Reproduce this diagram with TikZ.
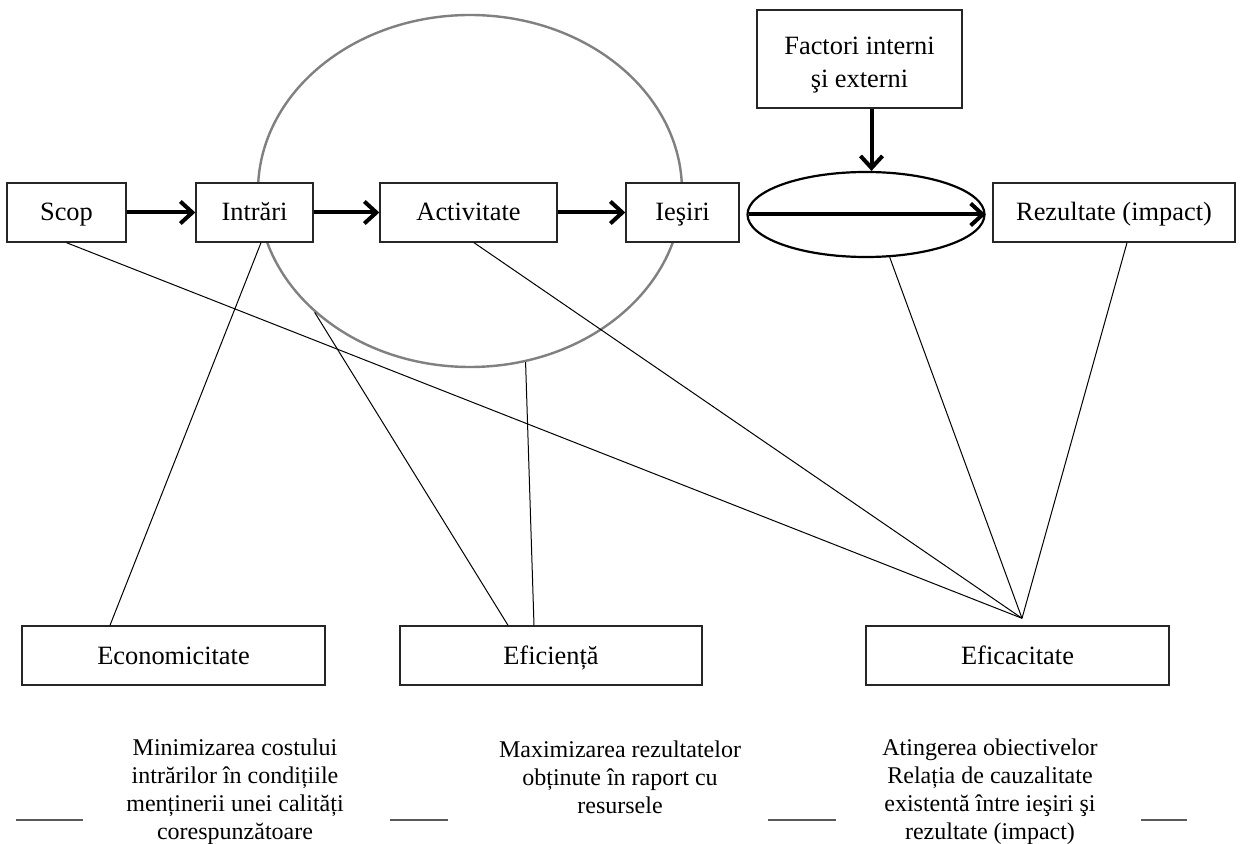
\documentclass[tikz,border=0pt]{standalone}
\usepackage{fontspec}
\setmainfont{Liberation Serif}
\usetikzlibrary{arrows.meta,shapes.geometric,calc}
\begin{document}
\begin{tikzpicture}[x=0.5pt,y=-0.5pt,
  boxbase/.style={draw=black!85, line width=0.7pt, fill=white, inner sep=0pt,
    minimum height=29.5pt, font=\fontsize{13.2}{15.5}\selectfont, align=center},
  box/.style={boxbase, text height=10pt, text depth=1.5pt},
  arr/.style={line width=2pt, -{Straight Barb[length=6pt,width=11pt]}},
  link/.style={line width=0.5pt},
  note/.style={font=\fontsize{12}{14}\selectfont, align=center, inner sep=0pt},
  dashmark/.style={line width=1pt, draw=black!65}
]
\fill[white] (0,0) rectangle (1242,844);
\useasboundingbox (0,0) rectangle (1242,844);

% big grey ellipse
\node[draw=black!50, line width=1.2pt, ellipse, minimum width=212pt,
      minimum height=176pt, inner sep=0pt] (big) at (470,191) {};

% top row
\node[box, minimum width=59.5pt] (scop) at (66.5,212.5) {Scop};
\node[box, minimum width=58.5pt] (intrari) at (254.5,212.5) {Intrări};
\node[box, minimum width=88.5pt] (activ) at (468.5,212.5) {Activitate};
\node[box, minimum width=56.5pt] (iesiri) at (682.5,212.5) {Ieşiri};
\node[draw=black, line width=1.1pt, ellipse, minimum width=118.5pt,
      minimum height=42.5pt, inner sep=0pt] (ell) at (866,214.5) {};
\node[box, minimum width=121pt] (rez) at (1114,212.5) {Rezultate (impact)};
\node[boxbase, minimum width=102.5pt, minimum height=49pt] (factori) at (859.5,59)
  {\raisebox{-2.75pt}[\height][\depth]{\renewcommand{\arraystretch}{1.05}\begin{tabular}{@{}c@{}}Factori interni\\şi externi\end{tabular}}};

% bottom boxes
\node[box, minimum width=151.5pt] (econ) at (173.5,655.5) {Economicitate};
\node[box, minimum width=151pt] (efcn) at (551,655.5) {Eficiență};
\node[box, minimum width=151.5pt] (efic) at (1017.5,655.5) {Eficacitate};

% arrows
\draw[arr] (scop) -- (intrari);
\draw[arr] (intrari) -- (activ);
\draw[arr] (activ) -- (iesiri);
\draw[arr] ($(ell.west)+(3,0)$) -- (ell.east);
\draw[arr] ($(factori.south)+(12,0)$) coordinate (fa) -- (fa |- ell.north);

% links
\coordinate (apex) at ($(efic.north)+(4.5,-7)$);
\draw[link] (scop.south) -- (apex);
\draw[link] ($(intrari.south)+(6.5,0)$) -- ($(econ.north)+(-63.5,0)$);
\draw[link] (big.218) -- ($(efcn.north)+(-43,0)$);
\draw[link] (big.-72) -- ($(efcn.north)+(-17,0)$);
\draw[link] ($(activ.south)+(5.5,0)$) -- (apex);
\draw[link] (ell.-61) -- (apex);
\draw[link] ($(rez.south)+(13,0)$) -- (apex);

% notes
\node[note] (n1) at (235,792) {Minimizarea costului\\intrărilor în condițiile\\menținerii unei calități\\corespunzătoare};
\node[note] (n2) at (620,777) {Maximizarea rezultatelor\\obținute în raport cu\\resursele};
\node[note] (n3) at (990,792) {Atingerea obiectivelor\\Relația de cauzalitate\\existentă între ieşiri şi\\rezultate (impact)};

% dashes
\draw[dashmark] (16,820) -- (83,820);
\draw[dashmark] (390,820) -- (448,820);
\draw[dashmark] (768,820) -- (836,820);
\draw[dashmark] (1141,820) -- (1187,820);
\end{tikzpicture}
\end{document}
